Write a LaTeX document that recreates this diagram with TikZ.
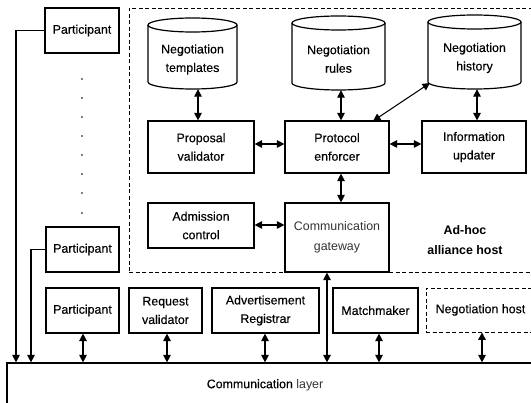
\documentclass[tikz,border=0pt]{standalone}
\usepackage{fontspec}
\setmainfont{Liberation Sans}
\newfontfamily\myheavy{Liberation Sans}[FakeBold=0.3]
\usetikzlibrary{arrows.meta}
\begin{document}
\begin{tikzpicture}[x=1pt,y=-1pt,
  box/.style={draw, line width=1.2pt, align=center, inner sep=0pt, font=\fontsize{12.4}{18.5}\selectfont\myheavy},
  txt/.style={align=center, inner sep=0pt, font=\fontsize{12.4}{18.5}\selectfont\myheavy},
  dbl/.style={line width=1.3pt, {Triangle[length=7.5pt,width=7.5pt]}-{Triangle[length=7.5pt,width=7.5pt]}},
  one/.style={line width=1.3pt, -{Triangle[length=7.5pt,width=7.5pt]}},
  dsh/.style={line width=0.9pt, dash pattern=on 4pt off 2.5pt}]
\useasboundingbox (0,0) rectangle (531,403);

\newcommand\mycyl[6]{% name, cx, cy, w, h, text
  \pgfmathsetmacro\myrx{#4/2}
  \pgfmathsetmacro\myT{#3-#5/2}
  \pgfmathsetmacro\myB{#3+#5/2}
  \pgfmathsetmacro\myL{#2-#4/2}
  \pgfmathsetmacro\myR{#2+#4/2}
  \draw[line width=1.2pt] (#2,\myT+7) ellipse [x radius=\myrx, y radius=7];
  \draw[line width=1.2pt] (\myL,\myT+7) -- (\myL,\myB-7)
     arc[start angle=180, end angle=0, x radius=\myrx, y radius=7] -- (\myR,\myT+7);
  \node[minimum width=#4pt, minimum height=#5pt, inner sep=0pt] (#1) at (#2,#3) {};
  \node[txt] (#1-t) at (#2,#3+6) {#6};
}

% alliance host region
\node[draw, dsh, minimum width=411pt, minimum height=264pt, inner sep=0pt] (alliance) at (334.5,140) {};

% cylinders
\mycyl{tmpl}{192.5}{53.5}{89}{71}{Negotiation\\templates}
\mycyl{rules}{338.5}{53}{93}{74}{Negotiation\\rules}
\mycyl{hist}{474.5}{52}{93}{74}{Negotiation\\history}

% boxes in host
\node[box, minimum width=106pt, minimum height=52pt] (val) at (201,147) {Proposal\\validator};
\node[box, minimum width=104pt, minimum height=52pt] (enf) at (337,147) {Protocol\\enforcer};
\node[box, minimum width=104pt, minimum height=52pt] (upd) at (474,147) {Information\\updater};
\node[box, minimum width=106pt, minimum height=45pt] (adm) at (201,225.5) {Admission\\control};
\node[box, minimum width=104pt, minimum height=69pt, text=black!80, font=\fontsize{12.4}{19.5}\selectfont] (gw) at (337,237.5) {Communication\\gateway};
\node[txt, font=\fontsize{12.4}{19.5}\selectfont\bfseries] (adhoc) at (465,240) {Ad-hoc\\alliance host};

% participants left
\node[box, minimum width=74pt, minimum height=45pt] (p1) at (82,30.5) {Participant};
\node[box, minimum width=73pt, minimum height=45pt] (p2) at (82.5,249.5) {Participant};
\foreach \yy in {79,98,117,136,155,174,193,213} \fill (82,\yy) circle (0.9);

% bottom row
\node[box, minimum width=73pt, minimum height=45pt] (p3) at (82.5,310.5) {Participant};
\node[box, minimum width=73pt, minimum height=45pt] (rv) at (165.5,310.5) {Request\\validator};
\node[box, minimum width=107pt, minimum height=45pt] (ar) at (265.5,310.5) {Advertisement\\Registrar};
\node[box, minimum width=85pt, minimum height=45pt] (mm) at (375.5,310.5) {Matchmaker};
\node[box, dsh, minimum width=109pt, minimum height=44pt] (nh) at (480.5,310) {Negotiation host};

% communication layer
\node[draw, line width=1.2pt, minimum width=540pt, minimum height=60pt, inner sep=0pt] (layer) at (277,393) {};
\node[txt] (layert) at (265,385) {Communication {\normalfont\fontsize{12.4}{18.5}\selectfont\color{black!80}layer}};

% column coordinates
\coordinate (x16) at (16,0);
\coordinate (x31) at (31,0);
\coordinate (x83) at (83,0);
\coordinate (x167) at (167,0);
\coordinate (x198) at (198,0);
\coordinate (x265) at (265,0);
\coordinate (x327) at (327,0);
\coordinate (x341) at (341,0);
\coordinate (x379) at (379,0);
\coordinate (x477) at (477,0);
\coordinate (x482) at (482,0);
\coordinate (y144) at (0,144);
\coordinate (y225) at (0,225);
\coordinate (dg1) at (373,121);
\coordinate (dg2) at (430,83);

% host connectors
\draw[dbl] (tmpl.south -| x198) -- (val.north -| x198);
\draw[dbl] (rules.south -| x341) -- (enf.north -| x341);
\draw[dbl] (hist.south -| x477) -- (upd.north -| x477);
\draw[dbl] (val.east |- y144) -- (enf.west |- y144);
\draw[dbl] (enf.east |- y144) -- (upd.west |- y144);
\draw[dbl, line width=1pt] (dg1) -- (dg2);
\draw[dbl] (enf.south -| x341) -- (gw.north -| x341);
\draw[dbl] (adm.east |- y225) -- (gw.west |- y225);

% participant lines
\draw[one] (p1.west) -| (x16 |- layer.north);
\draw[one] (p2.west) -| (x31 |- layer.north);

% bottom connectors
\draw[dbl] (p3.south -| x83) -- (layer.north -| x83);
\draw[dbl] (rv.south -| x167) -- (layer.north -| x167);
\draw[dbl] (ar.south -| x265) -- (layer.north -| x265);
\draw[dbl] (gw.south -| x327) -- (layer.north -| x327);
\draw[dbl] (mm.south -| x379) -- (layer.north -| x379);
\draw[dbl] (nh.south -| x482) -- (layer.north -| x482);
\end{tikzpicture}
\end{document}
